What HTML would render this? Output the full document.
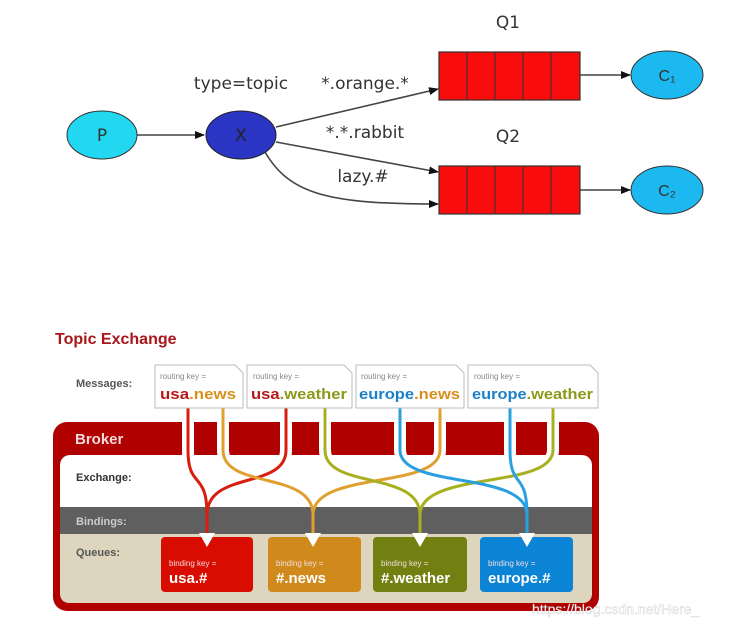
<!DOCTYPE html>
<html><head><meta charset="utf-8"><style>
html,body{margin:0;padding:0;background:#fff;}
svg{display:block;font-family:"Liberation Sans",sans-serif;}
</style></head><body>
<svg width="729" height="629" viewBox="0 0 729 629">
<defs>
<marker id="ah" markerWidth="10" markerHeight="8" refX="9" refY="4" orient="auto" markerUnits="userSpaceOnUse">
<path d="M0,0 L10,4 L0,8 z" fill="#111"/></marker>
<clipPath id="topc"><rect x="0" y="400" width="729" height="56"/></clipPath>
</defs>
<g font-family="DejaVu Sans, sans-serif" fill="#333" font-size="17">
<text x="508" y="28" text-anchor="middle">Q1</text>
<text x="508" y="142" text-anchor="middle">Q2</text>
<text x="241" y="89" text-anchor="middle">type=topic</text>
<text x="365" y="89" text-anchor="middle">*.orange.*</text>
<text x="365" y="138" text-anchor="middle">*.*.rabbit</text>
<text x="363" y="182" text-anchor="middle">lazy.#</text>
</g>
<g stroke="#444" stroke-width="1.6" fill="none">
<line x1="137" y1="135" x2="204" y2="135" marker-end="url(#ah)"/>
<line x1="276" y1="127" x2="438" y2="89" marker-end="url(#ah)"/>
<line x1="276" y1="142" x2="438" y2="172" marker-end="url(#ah)"/>
<path d="M265 152 C290 195 330 204 438 204" marker-end="url(#ah)"/>
<line x1="580" y1="75" x2="630" y2="75" marker-end="url(#ah)"/>
<line x1="580" y1="190" x2="630" y2="190" marker-end="url(#ah)"/>
</g>
<ellipse cx="102" cy="135" rx="35" ry="24" fill="#21d8f0" stroke="#333" stroke-width="1"/>
<text x="102" y="141" text-anchor="middle" font-size="17" fill="#333" font-family="DejaVu Sans, sans-serif">P</text>
<ellipse cx="241" cy="135" rx="35" ry="24" fill="#2a35c4" stroke="#222" stroke-width="1"/>
<text x="241" y="141" text-anchor="middle" font-size="17" fill="#222" font-family="DejaVu Sans, sans-serif">X</text>
<g stroke="#333" stroke-width="1.2" fill="#f80c0c">
<rect x="439" y="52" width="141" height="48"/>
<rect x="439" y="166" width="141" height="48"/>
</g>
<g stroke="#333" stroke-width="1">
<line x1="467" y1="52" x2="467" y2="100"/><line x1="495" y1="52" x2="495" y2="100"/><line x1="523" y1="52" x2="523" y2="100"/><line x1="551" y1="52" x2="551" y2="100"/>
<line x1="467" y1="166" x2="467" y2="214"/><line x1="495" y1="166" x2="495" y2="214"/><line x1="523" y1="166" x2="523" y2="214"/><line x1="551" y1="166" x2="551" y2="214"/>
</g>
<ellipse cx="667" cy="75" rx="36" ry="24" fill="#1cb8f0" stroke="#333"/>
<ellipse cx="667" cy="190" rx="36" ry="24" fill="#1cb8f0" stroke="#333"/>
<text x="667" y="81" text-anchor="middle" font-size="16" fill="#333">C₁</text>
<text x="667" y="196" text-anchor="middle" font-size="16" fill="#333">C₂</text>

<text x="55" y="344" font-size="16" font-weight="bold" fill="#a8161a">Topic Exchange</text>
<text x="76" y="387" font-size="11" font-weight="bold" fill="#555">Messages:</text>
<rect x="53" y="422" width="546" height="189" rx="14" fill="#b00000"/>
<rect x="60" y="455" width="532" height="148" rx="10" fill="#fff"/>
<rect x="60" y="507" width="532" height="27" fill="#5f5f5f"/>
<path d="M60 534 H592 V593 Q592 603 582 603 H70 Q60 603 60 593 Z" fill="#ddd5bd"/>
<text x="75" y="444" font-size="15" font-weight="bold" fill="#f4dcdc">Broker</text>
<text x="76" y="481" font-size="11" font-weight="bold" fill="#333">Exchange:</text>
<text x="76" y="525" font-size="11" font-weight="bold" fill="#ccc">Bindings:</text>
<text x="76" y="556" font-size="11" font-weight="bold" fill="#555">Queues:</text>

<g fill="none" stroke="#fff" stroke-width="12" clip-path="url(#topc)">
<path d="M188 408 V450 C188 490 207 470 207 515 V535"/>
<path d="M286 408 V450 C286 490 207 470 207 515 V535"/>
<path d="M223 408 V450 C223 490 313 470 313 515 V535"/>
<path d="M440 408 V450 C440 490 313 470 313 515 V535"/>
<path d="M325 408 V450 C325 490 420 470 420 515 V535"/>
<path d="M553 408 V450 C553 490 420 470 420 515 V535"/>
<path d="M400 408 V450 C400 490 527 470 527 515 V535"/>
<path d="M510 408 V450 C510 490 527 470 527 515 V535"/>
</g>
<g fill="none" stroke-width="3">
<path stroke="#d81e10" d="M188 408 V450 C188 490 207 470 207 515 V535"/>
<path stroke="#d81e10" d="M286 408 V450 C286 490 207 470 207 515 V535"/>
<path stroke="#e0a030" d="M223 408 V450 C223 490 313 470 313 515 V535"/>
<path stroke="#e0a030" d="M440 408 V450 C440 490 313 470 313 515 V535"/>
<path stroke="#a8b020" d="M325 408 V450 C325 490 420 470 420 515 V535"/>
<path stroke="#a8b020" d="M553 408 V450 C553 490 420 470 420 515 V535"/>
<path stroke="#2aa0e0" d="M400 408 V450 C400 490 527 470 527 515 V535"/>
<path stroke="#2aa0e0" d="M510 408 V450 C510 490 527 470 527 515 V535"/>
</g>

<g>
<rect x="161" y="537" width="92" height="55" rx="4" fill="#d80c00"/>
<rect x="268" y="537" width="93" height="55" rx="4" fill="#d08a1c"/>
<rect x="373" y="537" width="94" height="55" rx="4" fill="#718011"/>
<rect x="480" y="537" width="93" height="55" rx="4" fill="#0b84d6"/>
</g>
<g fill="#fff">
<path d="M199 533 H215 L207 547 Z"/><path d="M305 533 H321 L313 547 Z"/>
<path d="M412 533 H428 L420 547 Z"/><path d="M519 533 H535 L527 547 Z"/>
</g>
<g fill="#f2dede" font-size="8"><text x="169" y="566">binding key =</text><text x="276" y="566">binding key =</text><text x="381" y="566">binding key =</text><text x="488" y="566">binding key =</text></g>
<g fill="#fff" font-size="15" font-weight="bold"><text x="169" y="583">usa.#</text><text x="276" y="583">#.news</text><text x="381" y="583">#.weather</text><text x="488" y="583">europe.#</text></g>

<g fill="#fff" stroke="#bbb" stroke-width="1">
<path d="M155 365 H235 L243 373 V408 H155 Z"/>
<path d="M247 365 H344 L352 373 V408 H247 Z"/>
<path d="M356 365 H456 L464 373 V408 H356 Z"/>
<path d="M468 365 H590 L598 373 V408 H468 Z"/>
</g>
<g fill="#888" font-size="8"><text x="160" y="379">routing key =</text><text x="253" y="379">routing key =</text><text x="361" y="379">routing key =</text><text x="474" y="379">routing key =</text></g>
<g font-size="15" font-weight="bold">
<text x="160" y="399" textLength="76" lengthAdjust="spacingAndGlyphs"><tspan fill="#b81818">usa</tspan><tspan fill="#d8901c">.news</tspan></text>
<text x="251" y="399" textLength="96" lengthAdjust="spacingAndGlyphs"><tspan fill="#b81818">usa</tspan><tspan fill="#8a9a18">.weather</tspan></text>
<text x="359" y="399" textLength="101" lengthAdjust="spacingAndGlyphs"><tspan fill="#1a80c8">europe</tspan><tspan fill="#d8901c">.news</tspan></text>
<text x="472" y="399" textLength="121" lengthAdjust="spacingAndGlyphs"><tspan fill="#1a80c8">europe</tspan><tspan fill="#8a9a18">.weather</tspan></text>
</g>
<text x="532" y="614" font-size="14" fill="#fff" stroke="#bbb" stroke-width="0.3">https://blog.csdn.net/Here_</text>
</svg>
</body></html>
